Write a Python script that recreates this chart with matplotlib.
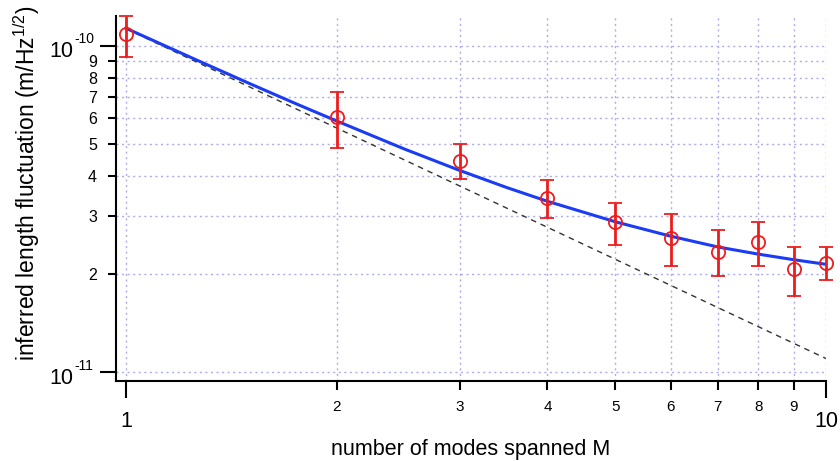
import numpy as np
import matplotlib
matplotlib.use("Agg")
import matplotlib.pyplot as plt
from matplotlib.ticker import FixedLocator, FixedFormatter, NullFormatter
from matplotlib.transforms import ScaledTranslation

plt.rcParams['font.family'] = ['Liberation Sans', 'DejaVu Sans']
plt.rcParams['mathtext.default'] = 'regular'

# measured points (m/Hz^1/2)
modes = [1, 2, 3, 4, 5, 6, 7, 8, 9, 10]
noise = [1.086e-10, 6.04e-11, 4.44e-11, 3.42e-11, 2.88e-11, 2.57e-11, 2.34e-11, 2.51e-11, 2.07e-11, 2.16e-11]
noise_hi = [1.24e-10, 7.24e-11, 4.99e-11, 3.87e-11, 3.29e-11, 3.05e-11, 2.73e-11, 2.88e-11, 2.41e-11, 2.42e-11]
noise_lo = [9.27e-11, 4.85e-11, 3.90e-11, 2.96e-11, 2.45e-11, 2.11e-11, 1.97e-11, 2.12e-11, 1.71e-11, 1.91e-11]

# fitted curve (blue)
fit_m = [1, 1.25, 1.5, 1.75, 2, 2.5, 3, 3.5, 4, 5, 6, 7, 8, 9, 10]
fit_y = [1.134e-10, 9.14e-11, 7.68e-11, 6.65e-11, 5.89e-11, 4.83e-11, 4.15e-11, 3.68e-11,
         3.34e-11, 2.89e-11, 2.61e-11, 2.42e-11, 2.30e-11, 2.21e-11, 2.14e-11]

# 1/M reference (dashed)
ref_m = [1, 10]
ref_y = [1.13e-10, 1.10e-11]

x_major = [1, 10]
x_minor = [2, 3, 4, 5, 6, 7, 8, 9]
y_major = [1e-11, 1e-10]
y_major_exp = ['-11', '-10']
y_minor = [2e-11, 3e-11, 4e-11, 5e-11, 6e-11, 7e-11, 8e-11, 9e-11]

fig = plt.figure(figsize=(8.4, 4.61), dpi=100)
ax = fig.add_axes([0.1381, 0.1735, 0.8452, 0.7918])
ax.set_xscale('log')
ax.set_yscale('log')

gcol = '#adadea'
for v in x_major + x_minor:
    ax.axvline(v, color=gcol, lw=1, ls=(0, (1.5, 2.5)), zorder=0)
for v in y_major + y_minor:
    ax.axhline(v, color=gcol, lw=1, ls=(0, (1.5, 2.5)), zorder=0)

ax.plot(ref_m, ref_y, color='#333333', lw=1, ls=(0, (4, 3.5)), zorder=2)
ax.plot(fit_m, fit_y, color='#1a3cf5', lw=2.2, zorder=3)

noise = np.array(noise)
yerr = [noise - np.array(noise_lo), np.array(noise_hi) - noise]
ax.errorbar(modes, noise, yerr=yerr, fmt='o', mfc='none', mec='#ee1c1c', ms=9.5, mew=1.3,
            ecolor='#ee1c1c', elinewidth=2, capsize=4.7, capthick=2, zorder=4, clip_on=False)

ax.set_xlim(0.968, 10)
ax.set_ylim(9.385e-12, 1.236e-10)

ax.xaxis.set_major_locator(FixedLocator(x_major))
ax.xaxis.set_major_formatter(FixedFormatter([str(v) for v in x_major]))
ax.xaxis.set_minor_locator(FixedLocator(x_minor))
ax.xaxis.set_minor_formatter(FixedFormatter([str(v) for v in x_minor]))
ax.yaxis.set_major_locator(FixedLocator(y_major))
ax.yaxis.set_major_formatter(NullFormatter())
ax.yaxis.set_minor_locator(FixedLocator(y_minor))
ax.yaxis.set_minor_formatter(FixedFormatter([str(i) for i in range(2, 10)]))

# decade labels: "10" with a raised exponent, like the original
ytr = ax.get_yaxis_transform()
for v, e in zip(y_major, y_major_exp):
    ax.text(0, v, '10', ha='right', va='baseline', fontsize=15.5,
            transform=ytr + ScaledTranslation(-0.43, -0.115, fig.dpi_scale_trans))
    ax.text(0, v, e, ha='left', va='baseline', fontsize=10,
            transform=ytr + ScaledTranslation(-0.42, 0.025, fig.dpi_scale_trans))

ax.tick_params(axis='x', which='major', direction='out', length=12, width=1.5, labelsize=15.5, pad=9.5)
ax.tick_params(axis='x', which='minor', direction='out', length=6.5, width=1.5, labelsize=11, pad=7)
ax.tick_params(axis='y', which='major', direction='out', length=11.5, width=1.5)
ax.tick_params(axis='y', which='minor', direction='out', length=5.8, width=1.5, labelsize=11.5, pad=7.9)

for s in ['top', 'right']:
    ax.spines[s].set_visible(False)
for s in ['left', 'bottom']:
    ax.spines[s].set_linewidth(1.5)

ax.set_xlabel('number of modes spanned M', fontsize=15.5, labelpad=5)
ax.set_ylabel('inferred length fluctuation (m/Hz$^{1/2}$)', fontsize=16.5)
ax.yaxis.set_label_coords(-0.1042, 0.5426)

fig.savefig('out.png', dpi=100)
